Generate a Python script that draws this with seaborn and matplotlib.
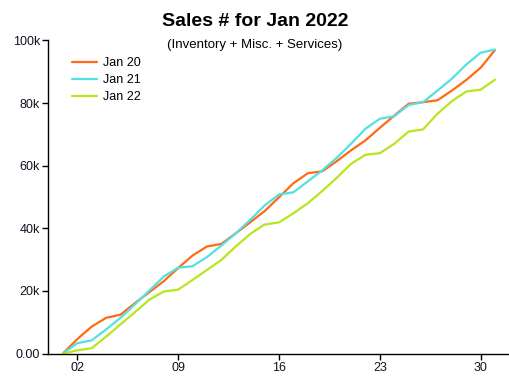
import numpy as np
import pandas as pd
import matplotlib
matplotlib.use("Agg")
import matplotlib.pyplot as plt
import seaborn as sns

days = list(range(1, 32))
jan20 = [0, 4.6, 8.6, 11.4, 12.4, 16.1, 19.6, 23.1, 27.3, 31.3, 34.2, 35.0, 38.4, 41.9, 45.5,
         49.9, 54.4, 57.6, 58.2, 61.4, 64.9, 68.1, 72.1, 76.0, 79.8, 80.3, 80.9, 84.0, 87.4, 91.3, 97.0]
jan21 = [0, 3.3, 4.2, 7.7, 11.4, 15.7, 20.1, 24.6, 27.4, 27.9, 30.8, 34.5, 38.4, 42.7, 47.3,
         50.8, 51.5, 55.0, 58.5, 62.5, 67.0, 71.8, 75.0, 75.8, 79.4, 80.3, 84.0, 87.8, 92.3, 96.1, 97.1]
jan22 = [0, 1.0, 1.7, 5.4, 9.3, 13.2, 17.2, 19.8, 20.4, 23.5, 26.7, 29.9, 34.2, 38.2, 41.2,
         41.9, 44.8, 48.0, 51.9, 56.1, 60.6, 63.5, 64.0, 67.0, 70.9, 71.6, 76.6, 80.6, 83.7, 84.3, 87.5]
series_names = ["Jan 20", "Jan 21", "Jan 22"]
colors = ["#FF6A13", "#55E0E0", "#B8E61E"]
xtick_pos = [2, 9, 16, 23, 30]
xtick_labels = ["02", "09", "16", "23", "30"]
ytick_pos = [0, 20000, 40000, 60000, 80000, 100000]
ytick_labels = ["0.00", "20k", "40k", "60k", "80k", "100k"]

rows = []
for name, vals in zip(series_names, [jan20, jan21, jan22]):
    for d, v in zip(days, vals):
        rows.append({"day": d, "sales": v * 1000, "series": name})
df = pd.DataFrame(rows)

sns.set_style("white")
plt.rcParams["font.family"] = ["Liberation Sans", "DejaVu Sans"]
plt.rcParams["text.color"] = "black"

fig = plt.figure(figsize=(5.1, 3.82), dpi=100)
ax = fig.add_axes([48.5 / 510, 1 - 353.5 / 382, 461 / 510, (353.5 - 40.5) / 382])

sns.lineplot(data=df, x="day", y="sales", hue="series", palette=colors,
             linewidth=1.6, ax=ax, legend=True)

ax.set_xlim(0, 32)
ax.set_ylim(0, 100000)
ax.set_xticks(xtick_pos)
ax.set_xticklabels(xtick_labels)
ax.set_yticks(ytick_pos)
ax.set_yticklabels(ytick_labels)
ax.set_xlabel("")
ax.set_ylabel("")
for s in ["top", "right"]:
    ax.spines[s].set_visible(False)
for s in ["left", "bottom"]:
    ax.spines[s].set_color("black")
    ax.spines[s].set_linewidth(1.0)
ax.tick_params(axis="both", which="both", direction="out", length=4, width=1,
               color="black", labelsize=9, labelcolor="#111122", pad=2, left=True, bottom=True)

handles, labels = ax.get_legend_handles_labels()
ax.legend(handles, labels, loc="upper left", bbox_to_anchor=(72 / 510, 1 - 57 / 382),
          bbox_transform=fig.transFigure, frameon=False, fontsize=9, labelcolor="black",
          handlelength=2.0, handletextpad=0.45, labelspacing=0.42, borderpad=0, borderaxespad=0)

fig.text(0.5, 1 - 22 / 382, "Sales # for Jan 2022", ha="center", va="center",
         fontsize=14, fontweight="bold", color="black")
fig.text(0.5, 1 - 45 / 382, "(Inventory + Misc. + Services)", ha="center", va="center",
         fontsize=9.5, color="black")

fig.savefig("out.png", dpi=100)
